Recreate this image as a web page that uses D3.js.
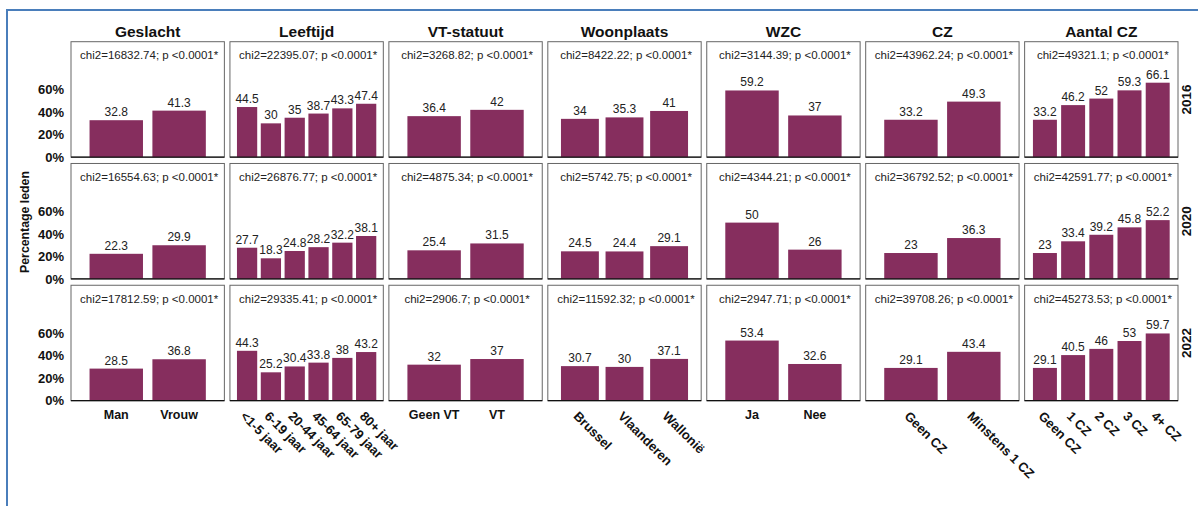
<!DOCTYPE html>
<html>
<head>
<meta charset="utf-8">
<script src="https://cdn.jsdelivr.net/npm/d3@7"></script>
<style>
  body { margin: 0; background: #fff; }
  svg { font-family: 'Liberation Sans', Arial, sans-serif; }
</style>
</head>
<body>
<div id="chart"></div>
<script>
// Facets (columns) and years (rows)
const groups = ['Geslacht', 'Leeftijd', 'VT-statuut', 'Woonplaats', 'WZC', 'CZ', 'Aantal CZ'];
const years = ['2016', '2020', '2022'];

// Categories per facet
const catGeslacht = ['Man', 'Vrouw'];
const catLeeftijd = ['<1-5 jaar', '6-19 jaar', '20-44 jaar', '45-64 jaar', '65-79 jaar', '80+ jaar'];
const catVT = ['Geen VT', 'VT'];
const catWoonplaats = ['Brussel', 'Vlaanderen', 'Wallonië'];
const catWZC = ['Ja', 'Nee'];
const catCZ = ['Geen CZ', 'Minstens 1 CZ'];
const catAantalCZ = ['Geen CZ', '1 CZ', '2 CZ', '3 CZ', '4+ CZ'];

// Percentage leden per year, one list per facet
const values2016 = [[32.8, 41.3], [44.5, 30, 35, 38.7, 43.3, 47.4], [36.4, 42], [34, 35.3, 41], [59.2, 37], [33.2, 49.3], [33.2, 46.2, 52, 59.3, 66.1]];
const values2020 = [[22.3, 29.9], [27.7, 18.3, 24.8, 28.2, 32.2, 38.1], [25.4, 31.5], [24.5, 24.4, 29.1], [50, 26], [23, 36.3], [23, 33.4, 39.2, 45.8, 52.2]];
const values2022 = [[28.5, 36.8], [44.3, 25.2, 30.4, 33.8, 38, 43.2], [32, 37], [30.7, 30, 37.1], [53.4, 32.6], [29.1, 43.4], [29.1, 40.5, 46, 53, 59.7]];

// chi2 statistics per year
const chi2016 = ['16832.74', '22395.07', '3268.82', '8422.22', '3144.39', '43962.24', '49321.1'];
const chi2020 = ['16554.63', '26876.77', '4875.34', '5742.75', '4344.21', '36792.52', '42591.77'];
const chi2022 = ['17812.59', '29335.41', '2906.7', '11592.32', '2947.71', '39708.26', '45273.53'];

const yTicks = [0, 20, 40, 60];

const categories = [catGeslacht, catLeeftijd, catVT, catWoonplaats, catWZC, catCZ, catAantalCZ];
const valuesByYear = [values2016, values2020, values2022];
const chiByYear = [chi2016, chi2020, chi2022];
const rotated = ['Leeftijd', 'Woonplaats', 'CZ', 'Aantal CZ'];

const BAR_COLOR = '#862E5E';
const width = 1198;
const height = 506;

const svg = d3.select('#chart')
    .append('svg')
    .attr('width', width)
    .attr('height', height);

// blue frame around the figure
svg.append('rect')
    .attr('x', 7)
    .attr('y', 10)
    .attr('width', 1300)
    .attr('height', 600)
    .attr('fill', 'none')
    .attr('stroke', '#4a7ebb')
    .attr('stroke-width', 2);

const colScale = d3.scaleBand()
    .domain(groups)
    .range([71, 1178])
    .paddingInner(0.035);

const rowScale = d3.scaleBand()
    .domain(years)
    .range([41.7, 400.7])
    .paddingInner(0.052);

// column titles
svg.selectAll('.col-title')
    .data(groups)
    .enter()
    .append('text')
    .attr('class', 'col-title')
    .attr('x', (d) => colScale(d) + colScale.bandwidth() / 2)
    .attr('y', 37.3)
    .attr('text-anchor', 'middle')
    .attr('font-size', '15.5px')
    .attr('font-weight', 'bold')
    .attr('fill', '#111')
    .text((d) => d);

// row (year) labels
svg.selectAll('.row-title')
    .data(years)
    .enter()
    .append('text')
    .attr('class', 'row-title')
    .attr('transform', (d) => 'translate(1191,' + (rowScale(d) + rowScale.bandwidth() / 2) + ') rotate(-90)')
    .attr('text-anchor', 'middle')
    .attr('font-size', '13.5px')
    .attr('font-weight', 'bold')
    .attr('fill', '#111')
    .text((d) => d);

// y axis title
svg.append('text')
    .attr('transform', 'translate(29,222) rotate(-90)')
    .attr('text-anchor', 'middle')
    .attr('font-size', '12.3px')
    .attr('font-weight', 'bold')
    .attr('fill', '#111')
    .text('Percentage leden');

years.forEach((year, r) => {
    const y0 = rowScale(year);
    const yScale = d3.scaleLinear()
        .domain([0, 102.5])
        .range([y0 + rowScale.bandwidth(), y0]);

    // y axis on the left of the first column
    const yAxis = d3.axisLeft(yScale)
        .tickValues(yTicks)
        .tickSize(0)
        .tickPadding(0)
        .tickFormat((d) => d + '%');

    const gy = svg.append('g')
        .attr('transform', 'translate(64,0)')
        .call(yAxis);
    gy.select('.domain').remove();
    gy.selectAll('text')
        .attr('font-size', '13px')
        .attr('font-weight', 'bold')
        .attr('font-family', 'Liberation Sans, Arial, sans-serif')
        .attr('fill', '#111');

    groups.forEach((group, c) => {
        const x0 = colScale(group);
        const bw = colScale.bandwidth();
        const cats = categories[c];
        const vals = valuesByYear[r][c];
        const data = cats.map((cat, i) => ({ cat, value: vals[i] }));

        const xScale = d3.scalePoint()
            .domain(cats)
            .range([x0, x0 + bw])
            .padding(0.72);
        const barW = xScale.step() * 0.85;

        const g = svg.append('g').attr('class', 'panel');

        g.append('rect')
            .attr('x', x0)
            .attr('y', y0)
            .attr('width', bw)
            .attr('height', rowScale.bandwidth())
            .attr('fill', '#fff')
            .attr('stroke', '#666')
            .attr('stroke-width', 1);

        g.selectAll('.bar')
            .data(data)
            .enter()
            .append('rect')
            .attr('class', 'bar')
            .attr('x', (d) => xScale(d.cat) - barW / 2)
            .attr('y', (d) => yScale(d.value))
            .attr('width', barW)
            .attr('height', (d) => yScale(0) - yScale(d.value))
            .attr('fill', BAR_COLOR);

        g.selectAll('.val')
            .data(data)
            .enter()
            .append('text')
            .attr('class', 'val')
            .attr('x', (d) => xScale(d.cat))
            .attr('y', (d) => yScale(d.value) - 4)
            .attr('text-anchor', 'middle')
            .attr('font-size', '12px')
            .attr('fill', '#222')
            .text((d) => d.value);

        // chi2 annotation
        g.append('text')
            .attr('x', x0 + bw / 2 + 1.5)
            .attr('y', y0 + 17.5)
            .attr('text-anchor', 'middle')
            .attr('font-size', '11.5px')
            .attr('fill', '#222')
            .text('chi2=' + chiByYear[r][c] + '; p <0.0001*');

        // bottom axis line
        g.append('line')
            .attr('x1', x0)
            .attr('x2', x0 + bw)
            .attr('y1', yScale(0))
            .attr('y2', yScale(0))
            .attr('stroke', '#111')
            .attr('stroke-width', 1.2);

        // category labels under the last row
        if (r === years.length - 1) {
            const labels = g.selectAll('.xlab')
                .data(cats)
                .enter()
                .append('text')
                .attr('class', 'xlab')
                .attr('font-weight', 'bold')
                .attr('fill', '#111')
                .text((d) => d);

            if (rotated.includes(group)) {
                labels
                    .attr('font-size', '13px')
                    .attr('transform', (d) => 'translate(' + (xScale(d) - 4) + ',' + (yScale(0) + 13) + ') rotate(45)')
                    .attr('dy', '0.35em')
                    .attr('text-anchor', 'start');
            } else {
                labels
                    .attr('font-size', '12.5px')
                    .attr('x', (d) => xScale(d))
                    .attr('y', yScale(0) + 18.5)
                    .attr('text-anchor', 'middle');
            }
        }
    });
});
</script>
</body>
</html>
